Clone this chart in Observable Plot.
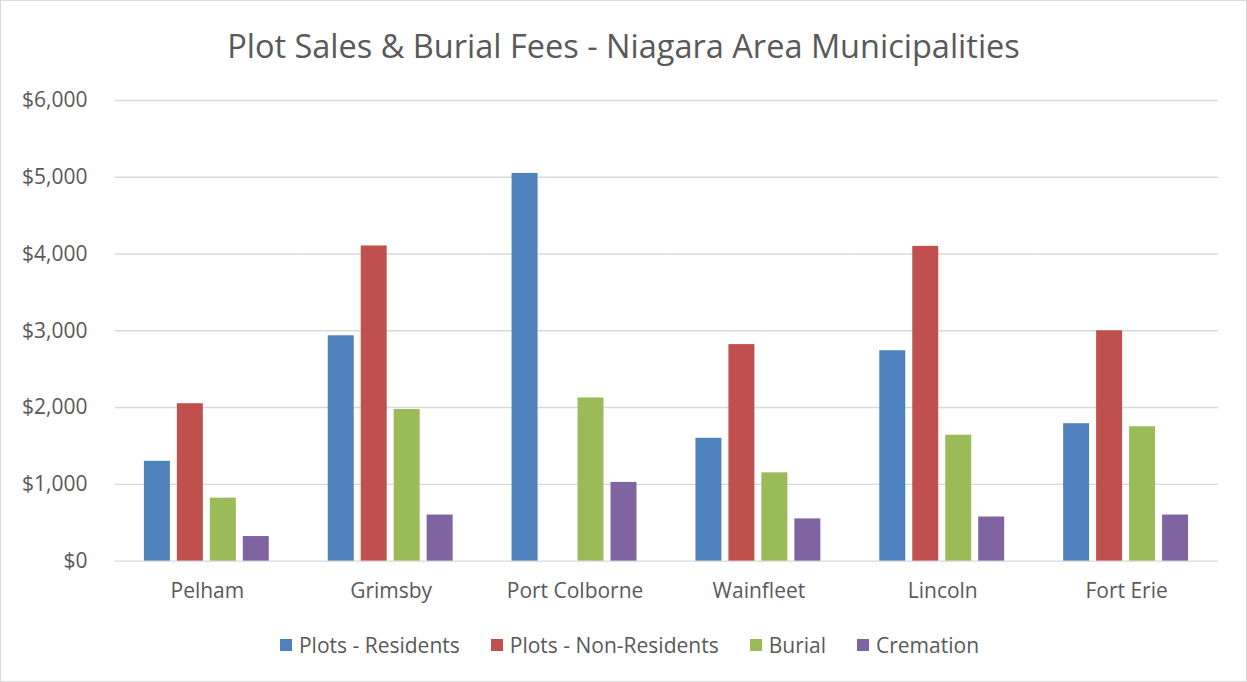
<!DOCTYPE html>
<html>
<head>
<meta charset="utf-8">
<script src="https://cdn.jsdelivr.net/npm/d3@7"></script>
<script src="https://cdn.jsdelivr.net/npm/@observablehq/plot@0.6"></script>
<style>
  html, body { margin: 0; padding: 0; background: #fff; }
  #wrap { position: relative; width: 1247px; height: 682px; box-sizing: border-box; border: 1px solid #d9d9d9; overflow: hidden; font-family: "Open Sans", sans-serif; color: #595959; }
  #title { position: absolute; left: 0; top: 23px; width: 100%; text-align: center; font-size: 32.5px; line-height: 44px; }
  #chart { position: absolute; left: -1px; top: 79px; }
  #legend { position: absolute; left: 6px; top: 630px; width: 100%; display: flex; justify-content: center; gap: 31px; font-size: 21px; line-height: 28px; }
  .item { display: flex; align-items: center; }
  .sw { width: 12px; height: 12px; margin-right: 7px; }
</style>
</head>
<body>
<div id="wrap">
  <div id="title">Plot Sales &amp; Burial Fees - Niagara Area Municipalities</div>
  <div id="chart"></div>
  <div id="legend"></div>
</div>
<script>
const categories = ["Pelham", "Grimsby", "Port Colborne", "Wainfleet", "Lincoln", "Fort Erie"];
const seriesNames = ["Plots - Residents", "Plots - Non-Residents", "Burial", "Cremation"];
const residents    = [1300, 2935, 5050, 1600, 2740, 1790];
const nonResidents = [2050, 4105, null, 2820, 4100, 3000];
const burial       = [820, 1975, 2125, 1150, 1640, 1750];
const cremation    = [320, 600, 1025, 550, 575, 600];
const yTicks = [0, 1000, 2000, 3000, 4000, 5000, 6000];
const colors = ["#4F81BD", "#C0504D", "#9BBB59", "#8064A2"];

const seriesValues = [residents, nonResidents, burial, cremation];
const data = [];
categories.forEach((c, i) => {
  seriesNames.forEach((s, j) => {
    const v = seriesValues[j][i];
    if (v != null) data.push({category: c, series: s, value: v});
  });
});

const chart = Plot.plot({
  width: 1247,
  height: 540,
  marginLeft: 114,
  marginRight: 28,
  marginTop: 20,
  marginBottom: 59,
  style: {fontFamily: "'Open Sans', sans-serif", fontSize: "20px", color: "#595959", background: "transparent"},
  fx: {domain: categories, paddingInner: 0, paddingOuter: 0, label: null, axis: null},
  x: {domain: seriesNames, paddingInner: 0.2, paddingOuter: 0.866, axis: null},
  y: {domain: [0, 6000], label: null, axis: null},
  color: {domain: seriesNames, range: colors},
  marks: [
    Plot.ruleY(yTicks, {stroke: "#d9d9d9", strokeWidth: 1.4}),
    Plot.barY(data, {fx: "category", x: "series", y: "value", fill: "series"}),
    Plot.axisY(yTicks, {tickSize: 0, tickPadding: 28, fontSize: 21, tickFormat: d => "$" + d3.format(",")(d), fill: "#595959", label: null}),
    Plot.axisFx({anchor: "bottom", tickSize: 0, tickPadding: 22, fontSize: 21, fill: "#595959", label: null})
  ]
});
document.getElementById("chart").appendChild(chart);

const legend = document.getElementById("legend");
seriesNames.forEach((s, j) => {
  const item = document.createElement("div");
  item.className = "item";
  const sw = document.createElement("span");
  sw.className = "sw";
  sw.style.background = colors[j];
  const t = document.createElement("span");
  t.textContent = s;
  item.appendChild(sw);
  item.appendChild(t);
  legend.appendChild(item);
});
</script>
</body>
</html>
